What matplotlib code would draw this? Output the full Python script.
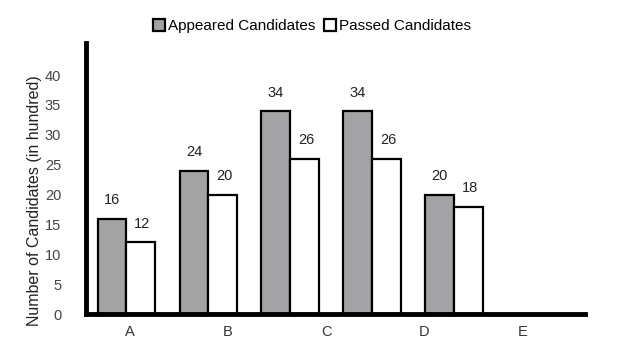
import matplotlib.pyplot as plt
import numpy as np

plt.rcParams['font.family'] = ['Liberation Sans', 'DejaVu Sans']

# data (in hundred)
categories = ["A", "B", "C", "D", "E"]
appeared = [16, 24, 34, 34, 20]
passed = [12, 20, 26, 26, 18]
y_ticks = [0, 5, 10, 15, 20, 25, 30, 35, 40]

fig = plt.figure(figsize=(6.43, 3.57), dpi=100)
ax = fig.add_axes([0.134, 0.12, 0.776, 0.76])

x = np.arange(len(appeared))
w = 0.35
b1 = ax.bar(x - w / 2, appeared, w, color='#a3a3a5', edgecolor='black',
            linewidth=1.6, label='Appeared Candidates')
b2 = ax.bar(x + w / 2, passed, w, color='white', edgecolor='black',
            linewidth=1.6, label='Passed Candidates')

for rect, v in zip(b1, appeared):
    ax.text(rect.get_x() + rect.get_width() / 2, v + 1.9, str(v),
            ha='center', va='bottom', fontsize=10.5, color='#222222')
for rect, v in zip(b2, passed):
    ax.text(rect.get_x() + rect.get_width() / 2 + 0.02, v + 1.9, str(v),
            ha='center', va='bottom', fontsize=10.5, color='#222222')

ax.set_xlim(-0.49, 5.6)
ax.set_ylim(0, 45.4)
ax.set_yticks(y_ticks)
ax.set_yticklabels([str(t) for t in y_ticks], color='#444444', fontsize=10.5)
# category labels are spaced wider than the bar groups in the original
ax.set_xticks(np.arange(len(categories)) * 1.2 + 0.04)
ax.set_xticklabels(categories, fontsize=10.5, color='#333333')
ax.tick_params(axis='y', length=0, pad=18)
ax.tick_params(axis='x', length=0, pad=8)

for s in ['top', 'right']:
    ax.spines[s].set_visible(False)
for s in ['left', 'bottom']:
    ax.spines[s].set_linewidth(3.5)
    ax.spines[s].set_color('black')

ax.set_ylabel('Number of Candidates (in hundred)', fontsize=11.5, color='#222222')
ax.yaxis.set_label_coords(-0.089, 0.42)

fig.legend(handles=[b1, b2], loc='upper center', bbox_to_anchor=(0.485, 0.985),
           ncol=2, frameon=False, fontsize=11, handlelength=0.8, handleheight=0.8,
           handletextpad=0.15, columnspacing=0.6)

fig.savefig('out.png', dpi=100)
